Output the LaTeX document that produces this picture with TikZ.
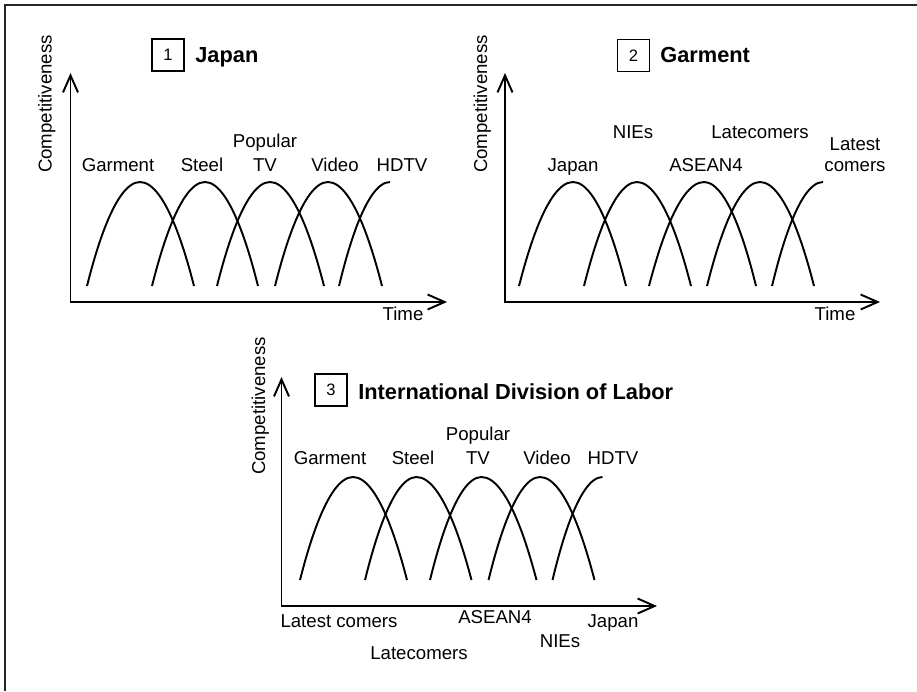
\documentclass[tikz,border=0pt]{standalone}
\usepackage{fontspec}
\setmainfont{Liberation Sans}
\usetikzlibrary{arrows.meta}

\tikzset{
	curve/.style={line width=1.1pt},
	axis/.style={line width=1.1pt, {Straight Barb[length=3.4mm,width=3mm]}-{Straight Barb[length=3.4mm,width=3mm]}},
	lbl/.style={anchor=base, inner sep=0pt, font=\fontsize{10.6}{12.7}\selectfont},
	ylbl/.style={lbl, rotate=90},
	numbox/.style={draw, line width=0.6pt, minimum size=0.64cm, inner sep=0pt, font=\fontsize{9.4}{11}\selectfont},
	title/.style={anchor=base west, inner sep=0pt, font=\fontsize{12.4}{14}\selectfont\bfseries}
}

\begin{document}
\begin{tikzpicture}
		\useasboundingbox (0,0) rectangle (18.34,-13.82);
		
		% frame
		\draw[line width=1.1pt, black!85] (0.10,-13.82) |- (18.34,-0.10);
		
		% panel 1
		\coordinate (ytip1) at (1.41,-1.46);
		\coordinate (xtip1) at (8.94,-6.04);
		\draw[axis] (ytip1) |- (xtip1);
		
		\draw[curve] (1.74,-5.72) parabola bend (2.80,-3.64) (3.88,-5.72);
		\draw[curve] (3.04,-5.72) parabola bend (4.10,-3.64) (5.16,-5.72);
		\draw[curve] (4.34,-5.72) parabola bend (5.40,-3.64) (6.48,-5.72);
		\draw[curve] (5.50,-5.72) parabola bend (6.56,-3.64) (7.64,-5.72);
		\draw[curve] (6.78,-5.72) parabola[bend at end] (7.80,-3.64);
		
		\node[numbox] (box1) at (3.36,-1.10) {1};
		\node[title] (title1) at (3.90,-1.25) {Japan};
		\node[ylbl] (comp1) at (1.03,-2.08) {Competitiveness};
		\node[lbl] (time1) at (8.06,-6.41) {Time};
		\node[lbl] (garment1) at (2.36,-3.43) {Garment};
		\node[lbl] (steel1) at (4.04,-3.43) {Steel};
		\node[lbl] (popular1) at (5.30,-2.95) {Popular};
		\node[lbl] (tv1) at (5.30,-3.43) {TV};
		\node[lbl] (video1) at (6.70,-3.43) {Video};
		\node[lbl] (hdtv1) at (8.04,-3.43) {HDTV};
		
		% panel 2
		\coordinate (ytip2) at (10.10,-1.46);
		\coordinate (xtip2) at (17.60,-6.04);
		\draw[axis] (ytip2) |- (xtip2);
		
		\draw[curve] (10.38,-5.72) parabola bend (11.46,-3.64) (12.52,-5.72);
		\draw[curve] (11.68,-5.72) parabola bend (12.74,-3.64) (13.82,-5.72);
		\draw[curve] (12.98,-5.72) parabola bend (14.08,-3.64) (15.12,-5.72);
		\draw[curve] (14.14,-5.72) parabola bend (15.20,-3.64) (16.28,-5.72);
		\draw[curve] (15.44,-5.72) parabola[bend at end] (16.46,-3.64);
		
		\node[numbox] (box2) at (12.67,-1.11) {2};
		\node[title] (title2) at (13.20,-1.25) {Garment};
		\node[ylbl] (comp2) at (9.74,-2.08) {Competitiveness};
		\node[lbl] (time2) at (16.70,-6.41) {Time};
		\node[lbl] (japan2) at (11.46,-3.43) {Japan};
		\node[lbl] (nies2) at (12.66,-2.77) {NIEs};
		\node[lbl] (asean2) at (14.12,-3.43) {ASEAN4};
		\node[lbl] (late2) at (15.20,-2.77) {Latecomers};
		\node[lbl] (latest2) at (17.10,-3.00) {Latest};
		\node[lbl] (comers2) at (17.10,-3.43) {comers};
		
		% panel 3
		\coordinate (ytip3) at (5.63,-7.54);
		\coordinate (xtip3) at (13.14,-12.12);
		\draw[axis] (ytip3) |- (xtip3);
		
		\draw[curve] (6.00,-11.60) parabola bend (7.06,-9.54) (8.14,-11.60);
		\draw[curve] (7.30,-11.60) parabola bend (8.33,-9.54) (9.43,-11.60);
		\draw[curve] (8.60,-11.60) parabola bend (9.63,-9.54) (10.73,-11.60);
		\draw[curve] (9.77,-11.60) parabola bend (10.80,-9.54) (11.89,-11.60);
		\draw[curve] (11.05,-11.60) parabola[bend at end] (12.05,-9.54);
		
		\node[numbox] (box3) at (6.62,-7.80) {3};
		\node[title] (title3) at (7.16,-7.98) {International Division of Labor};
		\node[ylbl] (comp3) at (5.30,-8.12) {Competitiveness};
		\node[lbl] (garment3) at (6.60,-9.28) {Garment};
		\node[lbl] (steel3) at (8.26,-9.28) {Steel};
		\node[lbl] (popular3) at (9.56,-8.80) {Popular};
		\node[lbl] (tv3) at (9.56,-9.28) {TV};
		\node[lbl] (video3) at (10.94,-9.28) {Video};
		\node[lbl] (hdtv3) at (12.26,-9.28) {HDTV};
		
		\node[lbl] (latest3) at (6.78,-12.55) {Latest comers};
		\node[lbl] (late3) at (8.38,-13.19) {Latecomers};
		\node[lbl] (asean3) at (9.90,-12.47) {ASEAN4};
		\node[lbl] (nies3) at (11.20,-12.95) {NIEs};
		\node[lbl] (japan3) at (12.26,-12.55) {Japan};
	\end{tikzpicture}
\end{document}
